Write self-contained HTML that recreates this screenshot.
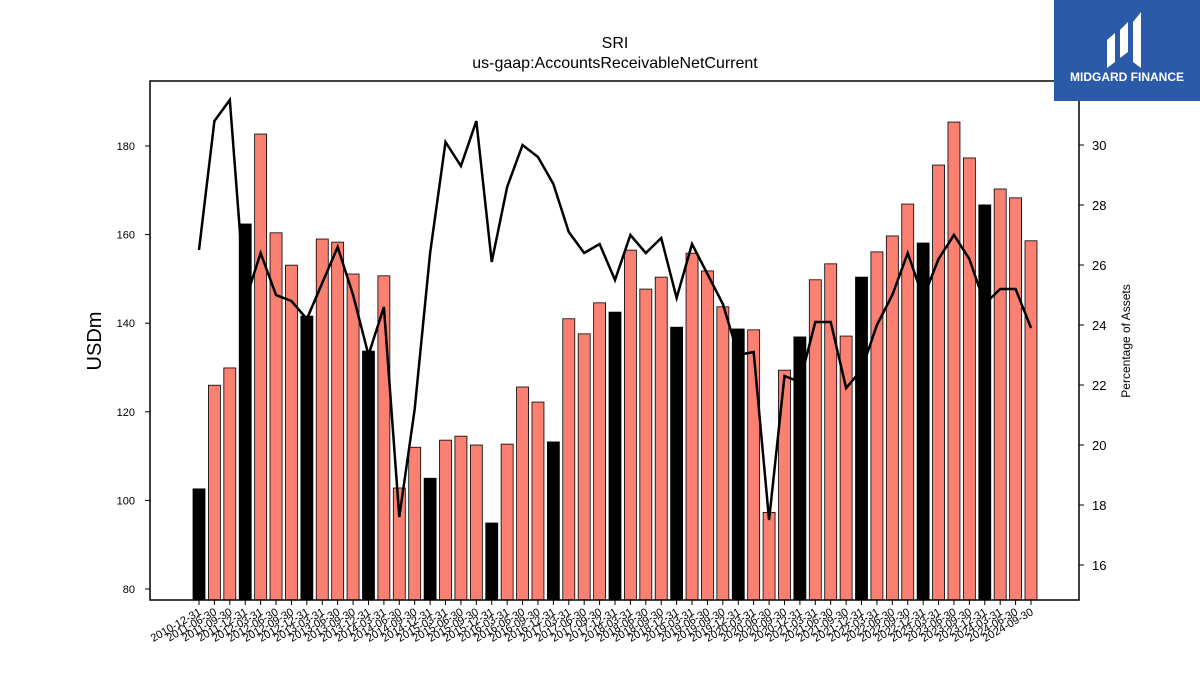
<!DOCTYPE html>
<html><head><meta charset="utf-8"><style>
body{margin:0;background:#fff;}
svg text{font-family:"Liberation Sans","DejaVu Sans",sans-serif;}
</style></head><body>
<svg id="chart" width="1200" height="675" viewBox="0 0 1200 675" xmlns="http://www.w3.org/2000/svg">
<text x="615" y="48" font-size="16" text-anchor="middle">SRI</text>
<text x="615" y="68" font-size="16" text-anchor="middle">us-gaap:AccountsReceivableNetCurrent</text>
<g id="bars"></g><g id="line"></g><g id="axes"></g>
<rect x="150" y="81" width="929" height="519" fill="none" stroke="#000" stroke-width="1.5"/>
<text transform="translate(101,341) rotate(-90)" font-size="20" text-anchor="middle">USDm</text>
<text transform="translate(1130,341) rotate(-90)" font-size="12" text-anchor="middle">Percentage of Assets</text>
<g>
<rect x="1054" y="0" width="146" height="101" fill="#2b5aa8"/>
<path d="M1107 68 L1107 40 L1115 33 L1115 62 Z M1120 58 L1120 30 L1128 22 L1128 52 Z M1133 62 L1133 22 L1141 12 L1141 68 Z" fill="#fff"/>
<text x="1127" y="81" font-size="12" font-weight="bold" fill="#fff" text-anchor="middle">MIDGARD FINANCE</text>
</g>
</svg>
<script>
const categories=["2010-12-31","2011-06-30","2011-09-30","2011-12-31","2012-03-31","2012-06-30","2012-09-30","2012-12-31","2013-03-31","2013-06-30","2013-09-30","2013-12-31","2014-03-31","2014-06-30","2014-09-30","2014-12-31","2015-03-31","2015-06-30","2015-09-30","2015-12-31","2016-03-31","2016-06-30","2016-09-30","2016-12-31","2017-03-31","2017-06-30","2017-09-30","2017-12-31","2018-03-31","2018-06-30","2018-09-30","2018-12-31","2019-03-31","2019-06-30","2019-09-30","2019-12-31","2020-03-31","2020-06-30","2020-09-30","2020-12-31","2021-03-31","2021-06-30","2021-09-30","2021-12-31","2022-03-31","2022-06-30","2022-09-30","2022-12-31","2023-03-31","2023-06-30","2023-09-30","2023-12-31","2024-03-31","2024-06-30","2024-09-30"];
const receivables=[102.6,126,129.9,162.4,182.7,160.4,153.1,141.6,159,158.3,151.1,133.7,150.7,102.8,112,105,113.6,114.5,112.5,94.9,112.7,125.6,122.2,113.2,141,137.6,144.6,142.5,156.5,147.7,150.4,139.1,155.8,151.8,143.7,138.7,138.5,97.3,129.4,136.9,149.8,153.4,137.1,150.4,156.1,159.7,166.9,158.1,175.7,185.4,177.3,166.7,170.3,168.3,158.6];
const pctAssets=[26.5,30.8,31.5,24.8,26.4,25.0,24.8,24.2,25.4,26.6,25.0,23.0,24.6,17.6,21.2,26.4,30.1,29.3,30.8,26.1,28.6,30.0,29.6,28.7,27.1,26.4,26.7,25.5,27.0,26.4,26.9,24.9,26.7,25.7,24.7,23.0,23.1,17.5,22.3,22.1,24.1,24.1,21.9,22.5,24.0,25.0,26.4,24.9,26.2,27.0,26.2,24.7,25.2,25.2,23.9];
const leftTicks=[80,100,120,140,160,180];
const rightTicks=[16,18,20,22,24,26,28,30];

const NS="http://www.w3.org/2000/svg";
const x0=199, step=(1031-199)/54, barW=12;
function xPos(i){return x0+i*step;}
function yL(v){return 589-(v-80)*4.43;}
function yR(v){return 565-(v-16)*30;}
function mk(tag,attrs,parent){const e=document.createElementNS(NS,tag);for(const k in attrs)e.setAttribute(k,attrs[k]);parent.appendChild(e);return e;}
const gb=document.getElementById('bars'),gl=document.getElementById('line'),ga=document.getElementById('axes');
const base=600;
receivables.forEach((v,i)=>{
  const black=categories[i].endsWith('12-31');
  const r=mk('rect',{x:xPos(i)-barW/2,y:yL(v),width:barW,height:base-yL(v),fill:black?'#000':'#fa8072',stroke:'#000','stroke-width':0.8},gb);
  
  
  const t=mk('line',{x1:xPos(i),x2:xPos(i),y1:600,y2:605,stroke:'#000'},ga);
  
  
  const lb=mk('text',{transform:`translate(${xPos(i)+3},${614}) rotate(-30)`,'font-size':11,'text-anchor':'end'},ga);
  lb.textContent=categories[i];
  
  
});
const pl=mk('polyline',{points:pctAssets.map((v,i)=>xPos(i)+','+yR(v)).join(' '),fill:'none',stroke:'#000','stroke-width':2.5},gl);


leftTicks.forEach(v=>{
  const t=mk('line',{x1:145,x2:150,y1:yL(v),y2:yL(v),stroke:'#000'},ga);
  
  
  const lb=mk('text',{x:135,y:yL(v)+4,'font-size':11,'text-anchor':'end'},ga);
  lb.textContent=v;
  
  
});
rightTicks.forEach(v=>{
  const t=mk('line',{x1:1079,x2:1084,y1:yR(v),y2:yR(v),stroke:'#000'},ga);
  
  
  const lb=mk('text',{x:1092,y:yR(v)+5,'font-size':13},ga);
  lb.textContent=v;
  
  
});
</script>
</body></html>
